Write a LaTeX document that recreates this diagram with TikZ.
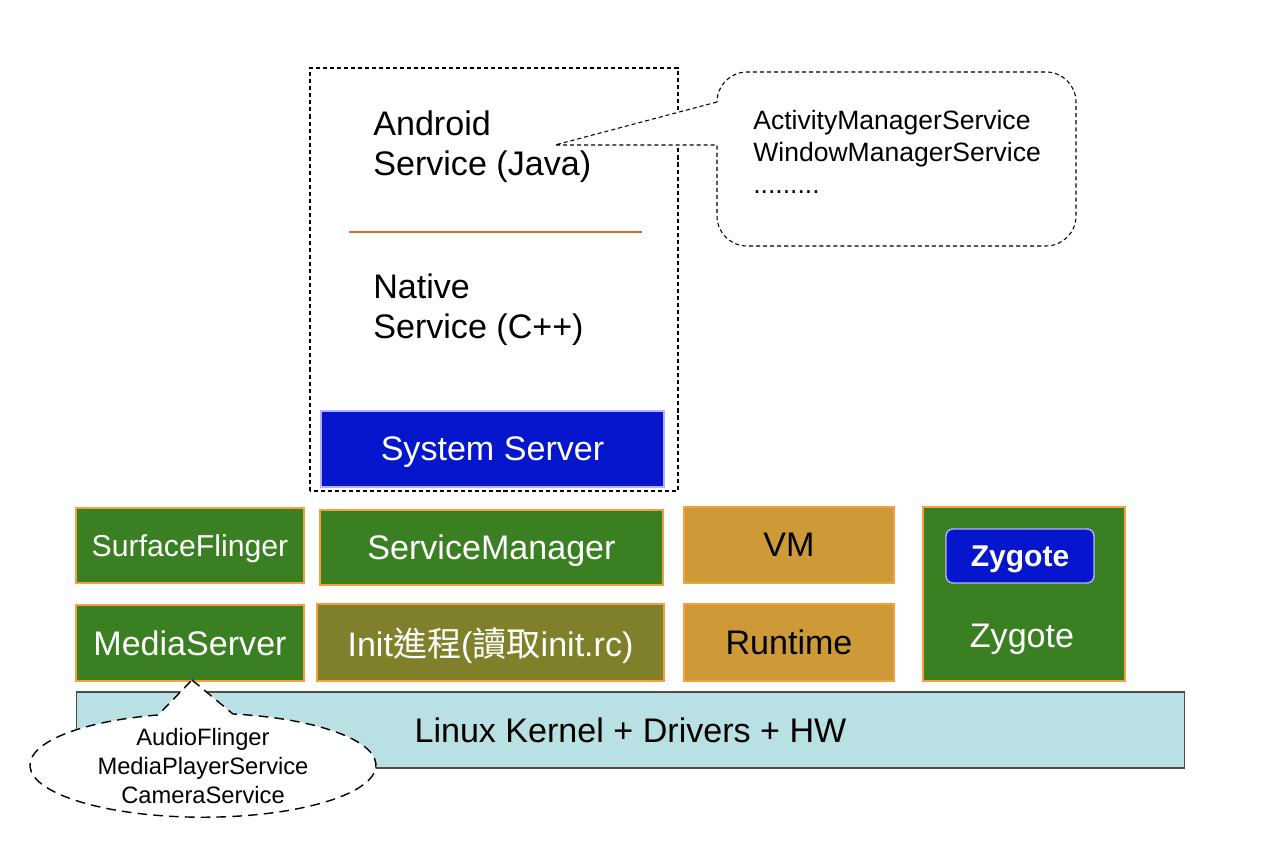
\documentclass[tikz,border=0pt]{standalone}
\usepackage{fontspec}
\setmainfont{Liberation Sans}
\newfontfamily\cjk{Noto Sans CJK TC}
\usepackage{tikz}
\definecolor{gruen}{RGB}{58,128,35}
\definecolor{oliv}{RGB}{128,128,42}
\definecolor{gold}{RGB}{206,154,56}
\definecolor{blau}{RGB}{5,22,204}
\definecolor{hellblau}{RGB}{185,224,226}
\definecolor{rand}{RGB}{245,160,60}
\definecolor{trennlinie}{RGB}{210,110,40}
\newcommand{\grossschrift}{\fontsize{19.4}{22.7}\selectfont}
\newcommand{\mittelschrift}{\fontsize{15.1}{18.1}\selectfont}
\newcommand{\kleinschrift}{\fontsize{13.5}{16.4}\selectfont}
\tikzset{
  kasten/.style={draw=rand, line width=0.8pt, inner sep=0pt, text=white, font=\grossschrift, text depth=0pt},
  gruenkasten/.style={kasten, fill=gruen},
  goldkasten/.style={kasten, fill=gold, text=black},
  blaukasten/.style={kasten, fill=blau, draw=blue!30},
  rahmen/.style={dash pattern=on 2.3pt off 1.7pt, line width=0.6pt},
  ellipsenrahmen/.style={dash pattern=on 5.5pt off 3.5pt, line width=0.8pt},
}
\begin{document}
\begin{tikzpicture}[x=0.02cm,y=0.02cm]
\useasboundingbox (0,0) rectangle (1286,866);
%Rahmen um System Server
\draw[rahmen] (310,375) rectangle (678,798);
\node[anchor=west, align=left, inner sep=0pt, font=\grossschrift] (java) at (373,719) {Android\\Service (Java)};
\draw[trennlinie, line width=1.1pt] (349,634) -- (642,634);
\node[anchor=west, align=left, inner sep=0pt, font=\grossschrift] (native) at (373,556) {Native\\Service (C++)};
\node[blaukasten, minimum width=6.86cm, minimum height=1.52cm] (systemserver) at (492.5,417) {System Server};
%Sprechblase rechts oben
\draw[rahmen, fill=white] (717,764) -- (555,721) -- (717,721) -- (717,650)
  arc[start angle=180, end angle=270, radius=30] -- (1046,620)
  arc[start angle=270, end angle=360, radius=30] -- (1076,764)
  arc[start angle=0, end angle=90, radius=30] -- (747,794)
  arc[start angle=90, end angle=180, radius=30] -- cycle;
\node[anchor=west, align=left, inner sep=0pt, font=\mittelschrift] (dienste) at (753,714) {ActivityManagerService\\WindowManagerService\\.........};
%obere Reihe
\node[gruenkasten, minimum width=4.56cm, minimum height=1.5cm, font=\fontsize{17.2}{20}\selectfont] (surface) at (190,320.5) {SurfaceFlinger};
\node[gruenkasten, minimum width=6.86cm, minimum height=1.5cm] (servicemanager) at (491.5,318.5) {ServiceManager};
\node[goldkasten, minimum width=4.2cm, minimum height=1.52cm] (vm) at (789,321) {VM};
\node[gruenkasten, minimum width=4.04cm, minimum height=3.48cm] (zygrahmen) at (1024,272) {};
\node[blaukasten, rounded corners=4pt, minimum width=2.96cm, minimum height=1.08cm, font=\fontsize{17.1}{20}\selectfont\bfseries] (zygote) at (1020,310) {Zygote};
\node[text=white, font=\grossschrift] (zygtext) at (1022,227) {Zygote};
%untere Reihe
\node[gruenkasten, minimum width=4.56cm, minimum height=1.52cm] (mediaserver) at (190,223) {MediaServer};
\node[kasten, fill=oliv, minimum width=6.94cm, minimum height=1.54cm] (init) at (490.5,223.5) {Init{\cjk 進程}({\cjk 讀取}init.rc)};
\node[goldkasten, minimum width=4.2cm, minimum height=1.54cm] (runtime) at (789,223.5) {Runtime};
\node[kasten, fill=hellblau, draw=black!70, line width=0.6pt, text=black, minimum width=22.18cm, minimum height=1.52cm] (linux) at (630.5,136) {Linux Kernel + Drivers + HW};
%Ellipse unter MediaServer
\draw[ellipsenrahmen, fill=white] (192,186) -- (233,152) arc[start angle=80, end angle=-255, x radius=173, y radius=52] -- cycle;
\node[align=center, font=\kleinschrift] (media) at (203,100) {AudioFlinger\\MediaPlayerService\\CameraService};
\end{tikzpicture}
\end{document}
